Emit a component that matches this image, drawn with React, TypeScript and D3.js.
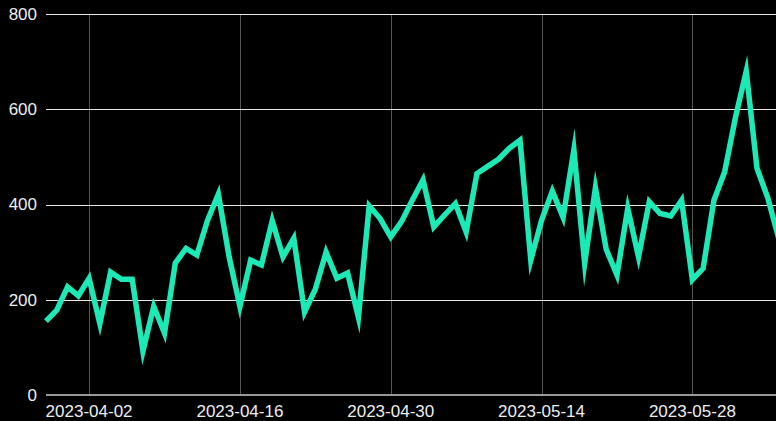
import React from "react";
import * as d3 from "d3";

const dates: string[] = [
  "2023-03-29","2023-03-30","2023-03-31","2023-04-01","2023-04-02","2023-04-03","2023-04-04","2023-04-05","2023-04-06","2023-04-07",
  "2023-04-08","2023-04-09","2023-04-10","2023-04-11","2023-04-12","2023-04-13","2023-04-14","2023-04-15","2023-04-16","2023-04-17",
  "2023-04-18","2023-04-19","2023-04-20","2023-04-21","2023-04-22","2023-04-23","2023-04-24","2023-04-25","2023-04-26","2023-04-27",
  "2023-04-28","2023-04-29","2023-04-30","2023-05-01","2023-05-02","2023-05-03","2023-05-04","2023-05-05","2023-05-06","2023-05-07",
  "2023-05-08","2023-05-09","2023-05-10","2023-05-11","2023-05-12","2023-05-13","2023-05-14","2023-05-15","2023-05-16","2023-05-17",
  "2023-05-18","2023-05-19","2023-05-20","2023-05-21","2023-05-22","2023-05-23","2023-05-24","2023-05-25","2023-05-26","2023-05-27",
  "2023-05-28","2023-05-29","2023-05-30","2023-05-31","2023-06-01","2023-06-02","2023-06-03","2023-06-04","2023-06-05"
];

const values: number[] = [
  155, 178, 227, 208, 245, 150, 258, 243, 243, 92,
  186, 130, 277, 308, 294, 367, 422, 290, 186, 283,
  273, 366, 290, 329, 174, 222, 300, 245, 256, 163,
  397, 371, 332, 364, 409, 452, 353, 378, 402, 342,
  465, 480, 495, 518, 535, 283, 367, 428, 373, 515,
  276, 435, 306, 252, 392, 290, 406, 381, 376, 409,
  242, 266, 409, 469, 583, 680, 476, 414, 330
];

const yTicks: number[] = [0, 200, 400, 600, 800];
const xTickLabels: string[] = ["2023-04-02", "2023-04-16", "2023-04-30", "2023-05-14", "2023-05-28"];

const W = 776;
const H = 421;

export default function App() {
  const parse = d3.utcParse("%Y-%m-%d");
  const data = dates.map((d, i) => ({ date: parse(d) as Date, value: values[i] }));
  const left = 46;
  const top = 14;
  const bottom = 395;
  const x = d3
    .scaleUtc()
    .domain([parse("2023-03-29") as Date, parse("2023-06-05") as Date])
    .range([left, left + 68 * 10.773]);
  const y = d3.scaleLinear().domain([0, 800]).range([bottom, top]);
  const line = d3
    .line<{ date: Date; value: number }>()
    .x((d) => x(d.date))
    .y((d) => y(d.value))
    .curve(d3.curveLinear);
  const font = "Arial, 'Liberation Sans', sans-serif";

  return (
    <svg
      width={W}
      height={H}
      style={{ position: "absolute", left: 0, top: 0, background: "#000", display: "block" }}
    >
      <rect x={0} y={0} width={W} height={H} fill="#000" />
      {xTickLabels.map((t) => {
        const xx = Math.round(x(parse(t) as Date)) + 0.5;
        return <line key={"v" + t} x1={xx} x2={xx} y1={top} y2={bottom} stroke="#555" strokeWidth={1} />;
      })}
      {yTicks.filter((t) => t !== 0).map((t) => {
        const yy = Math.round(y(t)) + 0.5;
        return <line key={"h" + t} x1={left} x2={W} y1={yy} y2={yy} stroke="#e8e8e8" strokeWidth={1.2} />;
      })}
      <line x1={left} x2={W} y1={bottom} y2={bottom} stroke="#999" strokeWidth={2} />
      {yTicks.map((t) => (
        <text
          key={"yl" + t}
          x={37}
          y={y(t)}
          dy="0.35em"
          textAnchor="end"
          fill="#eee"
          fontSize={17}
          fontFamily={font}
        >
          {t}
        </text>
      ))}
      {xTickLabels.map((t) => (
        <text
          key={"xl" + t}
          x={x(parse(t) as Date)}
          y={417}
          textAnchor="middle"
          fill="#eee"
          fontSize={17}
          fontFamily={font}
        >
          {t}
        </text>
      ))}
      <path
        d={line(data) || ""}
        fill="none"
        stroke="#1de9b6"
        strokeWidth={5.5}
        strokeLinejoin="miter"
        strokeMiterlimit={10}
      />
    </svg>
  );
}
